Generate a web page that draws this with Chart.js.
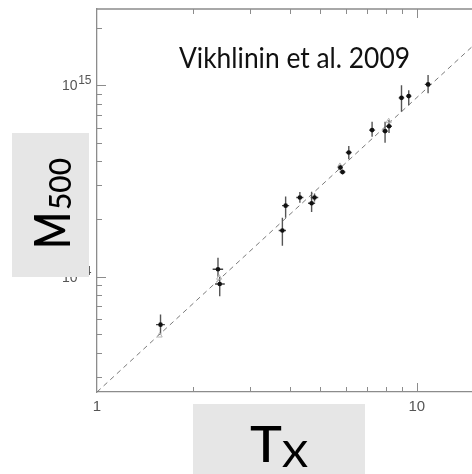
<!DOCTYPE html>
<html>
<head>
<meta charset="utf-8">
<script src="https://cdn.jsdelivr.net/npm/chart.js@4.4.1/dist/chart.umd.min.js"></script>
<style>
  html, body { margin: 0; padding: 0; background: #fff; overflow: hidden; width: 472px; height: 474px; }
  #wrap { position: relative; width: 540px; height: 474px; }
</style>
</head>
<body>
<div id="wrap"><canvas id="c" width="540" height="474"></canvas></div>
<script>
// Temperature T_X (keV)
const tx      = [1.58, 2.39, 2.42, 3.80, 3.89, 4.31, 4.69, 4.79, 5.77, 5.86, 6.13, 7.25, 7.96, 8.19, 8.96, 9.44, 10.85];
const txLow   = [1.53, 2.30, 2.34, 3.70, 3.79, 4.20, 4.57, 4.66, 5.66, 5.74, 6.00, 7.09, 7.80, 8.02, 8.78, 9.25, 10.6];
const txHigh  = [1.63, 2.48, 2.51, 3.90, 3.99, 4.42, 4.81, 4.92, 5.88, 5.98, 6.26, 7.41, 8.12, 8.36, 9.14, 9.63, 11.1];
// Mass M500 (Msun)
const m500     = [5.62e13, 1.094e14, 9.16e13, 1.742e14, 2.35e14, 2.59e14, 2.42e14, 2.59e14, 3.72e14, 3.52e14, 4.45e14, 5.83e14, 5.76e14, 6.11e14, 8.59e14, 8.77e14, 1.01e15];
const m500Low  = [4.99e13, 1.00e14, 7.91e13, 1.45e14, 2.03e14, 2.43e14, 2.18e14, 2.47e14, 3.60e14, 3.42e14, 4.10e14, 5.38e14, 5.00e14, 5.63e14, 7.26e14, 7.87e14, 9.08e14];
const m500High = [6.34e13, 1.256e14, 1.00e14, 2.03e14, 2.62e14, 2.77e14, 2.78e14, 2.72e14, 3.85e14, 3.63e14, 4.81e14, 6.45e14, 6.45e14, 6.58e14, 1.00e15, 9.42e14, 1.13e15];
// faint secondary markers
const txFaint   = [1.57, 2.41, 5.75, 8.17];
const m500Faint = [4.93e13, 9.88e13, 3.79e14, 6.49e14];
// fit line endpoints
const fitT = [1, 20];
const fitM = [2.5e13, 2.5e15];
// axis ranges and labelled ticks
const xRange = [1, 20];
const yRange = [2.5e13, 2.5e15];
const xTickLabels = [1, 10];
const yTickLabels = [{ value: 1e15, base: '10', exp: '15' }, { value: 1e14, base: '10', exp: '14' }];
const titleText = 'Vikhlinin et al. 2009';
const yTitle = { main: 'M', sub: '500' };
const xTitle = { main: 'T', sub: 'X' };

const pts = tx.map((t, i) => ({ x: t, y: m500[i] }));
const vErr = [];
tx.forEach((t, i) => { vErr.push({ x: t, y: m500Low[i] }, { x: t, y: m500High[i] }, { x: t, y: null }); });
const hErr = [];
tx.forEach((t, i) => { hErr.push({ x: txLow[i], y: m500[i] }, { x: txHigh[i], y: m500[i] }, { x: txHigh[i], y: null }); });
const faint = txFaint.map((t, i) => ({ x: t, y: m500Faint[i] }));
const fit = fitT.map((t, i) => ({ x: t, y: fitM[i] }));

const AXIS = '#8c8c8c';

function isNice(v) {
  const p = Math.pow(10, Math.floor(Math.log10(v) + 1e-9));
  const m = v / p;
  return Math.abs(m - Math.round(m)) < 1e-6;
}
function isMajor(v) {
  const l = Math.log10(v);
  return Math.abs(l - Math.round(l)) < 1e-9;
}

const framePlugin = {
  id: 'frame',
  afterDatasetsDraw(chart) {
    const { ctx, chartArea: a, scales: { x, y } } = chart;
    ctx.save();
    ctx.strokeStyle = AXIS;
    ctx.lineWidth = 1.3;
    ctx.beginPath();
    ctx.moveTo(a.left, a.top); ctx.lineTo(a.right, a.top); ctx.lineTo(a.right, a.bottom);
    ctx.stroke();
    ctx.lineWidth = 1;
    ctx.beginPath();
    x.ticks.forEach(t => {
      const v = t.value;
      if (v <= xRange[0] || v >= xRange[1] || !isNice(v)) return;
      const px = Math.round(x.getPixelForValue(v)) + 0.5;
      const len = isMajor(v) ? 9 : 5;
      ctx.moveTo(px, a.bottom); ctx.lineTo(px, a.bottom - len);
      ctx.moveTo(px, a.top); ctx.lineTo(px, a.top + len);
    });
    y.ticks.forEach(t => {
      const v = t.value;
      if (v <= yRange[0] || v >= yRange[1] || !isNice(v)) return;
      const py = Math.round(y.getPixelForValue(v)) + 0.5;
      const len = isMajor(v) ? 9 : 5;
      ctx.moveTo(a.left, py); ctx.lineTo(a.left + len, py);
      ctx.moveTo(a.right, py); ctx.lineTo(a.right - len, py);
    });
    ctx.stroke();
    ctx.restore();
  },
  afterDraw(chart) {
    const { ctx, chartArea: a, scales: { x, y } } = chart;
    ctx.save();
    // y tick labels with superscripts
    ctx.fillStyle = '#555';
    ctx.textBaseline = 'middle';
    yTickLabels.forEach(l => {
      const py = y.getPixelForValue(l.value);
      ctx.font = '14px "Liberation Sans", Arial, sans-serif';
      ctx.textAlign = 'left';
      const bw = ctx.measureText(l.base).width;
      ctx.font = '12px "Liberation Sans", Arial, sans-serif';
      const ew = ctx.measureText(l.exp).width;
      const x0 = a.left - 6 - bw - ew;
      ctx.font = '14px "Liberation Sans", Arial, sans-serif';
      ctx.fillText(l.base, x0, py + 1);
      ctx.font = '12px "Liberation Sans", Arial, sans-serif';
      ctx.fillText(l.exp, x0 + bw + 0.5, py - 5);
    });
    // title text
    ctx.fillStyle = '#111';
    ctx.textBaseline = 'alphabetic';
    ctx.textAlign = 'left';
    ctx.font = '28px Lato, "Open Sans", sans-serif';
    const tw = ctx.measureText(titleText).width;
    ctx.save();
    ctx.translate(179, 68);
    ctx.scale(231 / tw, 1);
    ctx.fillText(titleText, 0, 0);
    ctx.restore();
    // y title box
    ctx.fillStyle = '#e6e6e6';
    ctx.fillRect(12, 133, 77, 144);
    ctx.save();
    ctx.translate(70, 249);
    ctx.rotate(-Math.PI / 2);
    ctx.fillStyle = '#000';
    ctx.font = '600 50px Lato, sans-serif';
    const mw = ctx.measureText(yTitle.main).width;
    ctx.save(); ctx.scale(37 / mw, 1); ctx.fillText(yTitle.main, 0, 0); ctx.restore();
    ctx.font = '500 31px Lato, sans-serif';
    const sw = ctx.measureText(yTitle.sub).width;
    ctx.save(); ctx.translate(39, 1); ctx.scale(52 / sw, 1); ctx.fillText(yTitle.sub, 0, 0); ctx.restore();
    ctx.restore();
    // x title box
    ctx.fillStyle = '#e6e6e6';
    ctx.fillRect(193, 404, 172, 70);
    ctx.fillStyle = '#000';
    ctx.font = '500 51px Lato, sans-serif';
    const Tw = ctx.measureText(xTitle.main).width;
    ctx.save(); ctx.translate(250, 462); ctx.scale(32 / Tw, 1); ctx.fillText(xTitle.main, 0, 0); ctx.restore();
    ctx.font = '500 37px Lato, sans-serif';
    const Xw = ctx.measureText(xTitle.sub).width;
    ctx.save(); ctx.translate(282, 467); ctx.scale(26 / Xw, 1); ctx.fillText(xTitle.sub, 0, 0); ctx.restore();
    ctx.restore();
  }
};

new Chart(document.getElementById('c'), {
  type: 'scatter',
  data: {
    datasets: [
      { type: 'line', data: fit, borderColor: '#7a7a7a', borderWidth: 1, borderDash: [5, 4], pointRadius: 0, fill: false, order: 5 },
      { type: 'line', data: vErr, borderColor: '#555', borderWidth: 1.4, pointRadius: 0, spanGaps: false, fill: false, order: 4 },
      { type: 'line', data: hErr, borderColor: '#444', borderWidth: 1.4, pointRadius: 0, spanGaps: false, fill: false, order: 3 },
      { data: faint, pointStyle: 'triangle', pointRadius: 3, backgroundColor: 'rgba(0,0,0,0)', borderColor: '#b5b5b5', borderWidth: 1, order: 2 },
      { data: pts, pointRadius: 2.3, backgroundColor: '#111', borderColor: '#111', borderWidth: 0, order: 1 }
    ]
  },
  options: {
    responsive: false,
    animation: false,
    events: [],
    layout: { padding: { left: 0, top: 9, right: 27, bottom: 0 } },
    plugins: { legend: { display: false }, tooltip: { enabled: false } },
    scales: {
      x: {
        type: 'logarithmic', min: xRange[0], max: xRange[1],
        grid: { display: false, drawTicks: false },
        border: { display: true, color: AXIS, width: 1.3 },
        ticks: {
          autoSkip: false, maxRotation: 0, padding: 6, color: '#555',
          font: { family: '"Liberation Sans", Arial, sans-serif', size: 15 },
          callback: v => xTickLabels.includes(v) ? String(v) : ''
        },
        afterFit: s => { s.height = 82; }
      },
      y: {
        type: 'logarithmic', min: yRange[0], max: yRange[1],
        grid: { display: false, drawTicks: false },
        border: { display: true, color: AXIS, width: 1.3 },
        ticks: { display: false },
        afterFit: s => { s.width = 97; }
      }
    }
  },
  plugins: [framePlugin]
});
</script>
</body>
</html>
